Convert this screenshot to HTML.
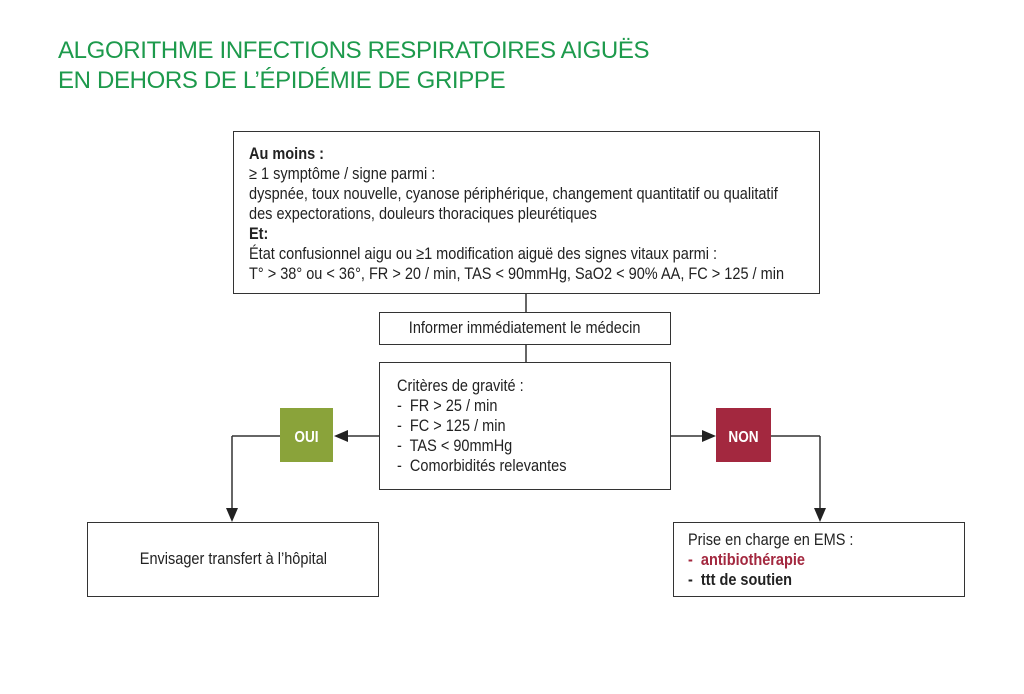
<!DOCTYPE html>
<html><head><meta charset="utf-8"><style>
body{margin:0;background:#fff;width:1024px;height:694px;position:relative;overflow:hidden;font-family:"Liberation Sans",sans-serif;color:#222}
.t{position:absolute;left:58px;color:#1d9a4c;font-family:"Liberation Sans",sans-serif;font-size:24px;letter-spacing:-0.35px;line-height:30px;top:36px;white-space:nowrap}
.b{position:absolute;border:1.5px solid #333;box-sizing:border-box;background:#fff;font-size:16.5px}
.l{line-height:20px}
.s{display:inline-block;white-space:nowrap;transform:scaleX(0.88);transform-origin:left top}
.c{display:inline-block;white-space:nowrap;transform:scaleX(0.88);transform-origin:center}
</style></head><body>
<div class="t">ALGORITHME INFECTIONS RESPIRATOIRES AIGUËS<br>EN DEHORS DE L’ÉPIDÉMIE DE GRIPPE</div>
<svg width="1024" height="694" style="position:absolute;left:0;top:0">
<g stroke="#333" stroke-width="1.5" fill="none">
<line x1="526" y1="293" x2="526" y2="312"/>
<line x1="526" y1="344" x2="526" y2="362"/>
<line x1="379" y1="436" x2="345" y2="436"/>
<line x1="280" y1="436" x2="232" y2="436"/><line x1="232" y1="436" x2="232" y2="510"/>
<line x1="671" y1="436" x2="704" y2="436"/>
<line x1="771" y1="436" x2="820" y2="436"/><line x1="820" y1="436" x2="820" y2="510"/>
</g>
<g fill="#222">
<polygon points="334,436 348,430 348,442"/>
<polygon points="716,436 702,430 702,442"/>
<polygon points="232,522 226,508 238,508"/>
<polygon points="820,522 814,508 826,508"/>
</g>
<rect x="280" y="408" width="53" height="54" fill="#8aa33a"/>
<rect x="716" y="408" width="55" height="54" fill="#a3283f"/>
<text x="306.5" y="442" fill="#fff" font-family="Liberation Sans,sans-serif" font-weight="bold" font-size="16" text-anchor="middle" transform="translate(306.5 0) scale(0.85 1) translate(-306.5 0)">OUI</text>
<text x="743.5" y="442" fill="#fff" font-family="Liberation Sans,sans-serif" font-weight="bold" font-size="16" text-anchor="middle" transform="translate(743.5 0) scale(0.85 1) translate(-743.5 0)">NON</text>
</svg>
<div class="b l" style="left:233px;top:131px;width:587px;height:163px;padding:12px 0 0 15px"><span class="s">
<b>Au moins :</b><br>≥ 1 symptôme / signe parmi :<br>dyspnée, toux nouvelle, cyanose périphérique, changement quantitatif ou qualitatif<br>des expectorations, douleurs thoraciques pleurétiques<br><b>Et:</b><br>État confusionnel aigu ou ≥1 modification aiguë des signes vitaux parmi :<br>T° &gt; 38° ou &lt; 36°, FR &gt; 20 / min, TAS &lt; 90mmHg, SaO2 &lt; 90% AA, FC &gt; 125 / min</span>
</div>
<div class="b" style="left:379px;top:312px;width:292px;height:33px;text-align:center;line-height:30px"><span class="c">Informer immédiatement le médecin</span></div>
<div class="b l" style="left:379px;top:362px;width:292px;height:128px;padding:13px 0 0 17px"><span class="s">Critères de gravité :<br>-&nbsp; FR &gt; 25 / min<br>-&nbsp; FC &gt; 125 / min<br>-&nbsp; TAS &lt; 90mmHg<br>-&nbsp; Comorbidités relevantes</span></div>
<div class="b" style="left:87px;top:522px;width:292px;height:75px;text-align:center;line-height:72px"><span class="c">Envisager transfert à l’hôpital</span></div>
<div class="b l" style="left:673px;top:522px;width:292px;height:75px;padding:7px 0 0 14px"><span class="s">Prise en charge en EMS :<br><b style="color:#a3283f">-&nbsp; antibiothérapie</b><br><b>-&nbsp; ttt de soutien</b></span></div>
</body></html>
